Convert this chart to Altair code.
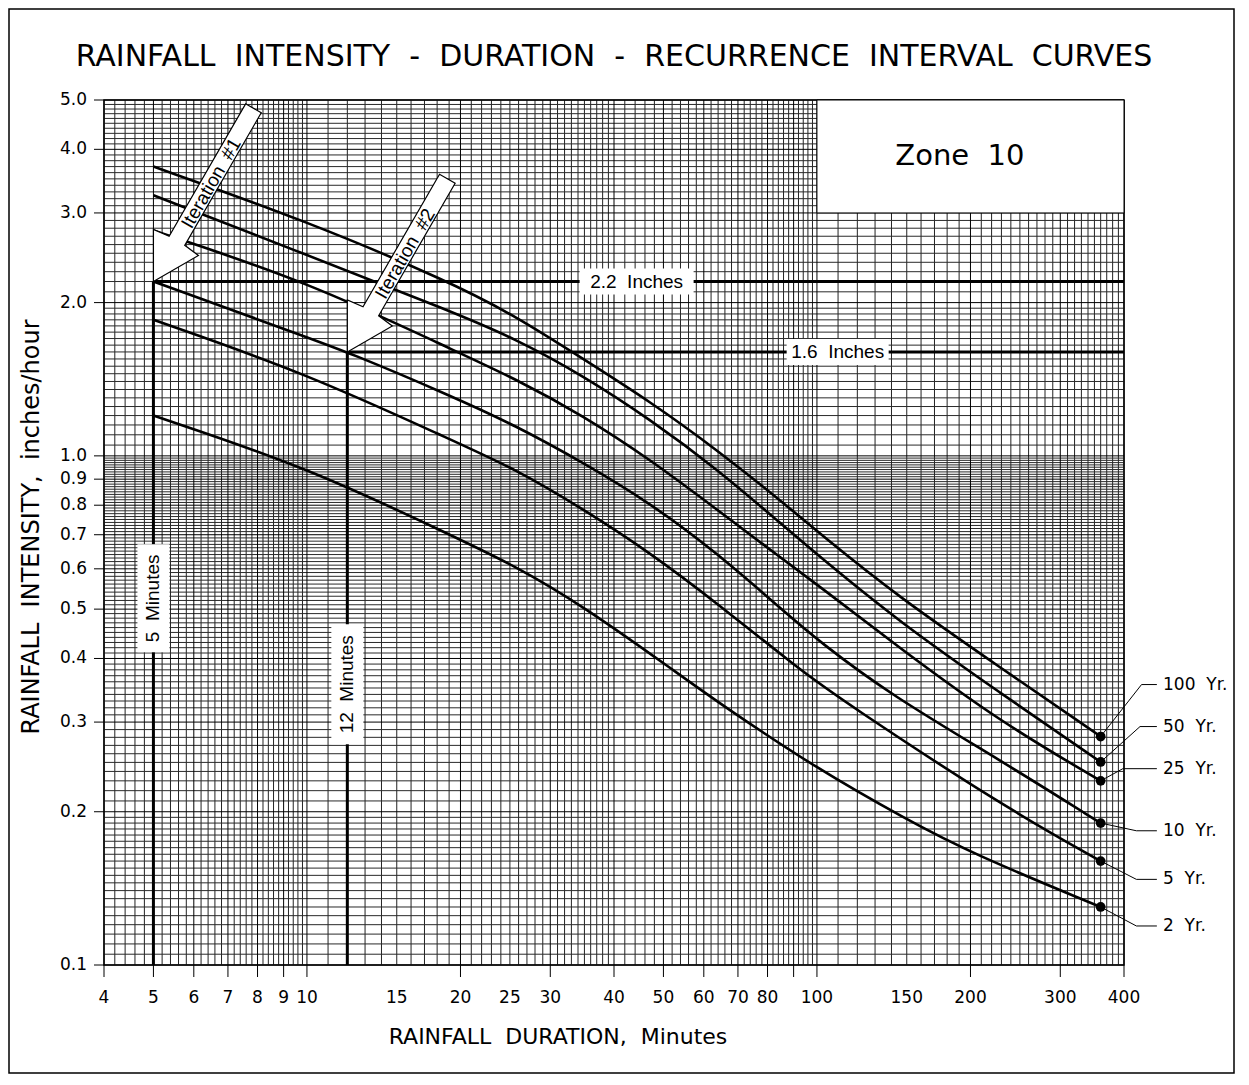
import altair as alt
import pandas as pd

W, H = 1020, 865
XDOM = [4, 400]
YDOM = [0.1, 5.0]
SP = " \u00a0"  # a visible double space (SVG collapses plain double spaces)

# ---------------- curve readings (duration in minutes, intensity in in/hr) ----------------
dur_100 = [5, 10, 19, 25.7, 34.8, 47, 63.5, 85.8, 101, 145, 228, 360]
int_100 = [3.70, 2.89, 2.20, 1.88, 1.55, 1.28, 1.03, 0.81, 0.705, 0.527, 0.385, 0.281]
dur_50 = [5, 10, 19, 25.7, 34.8, 47, 63.5, 85.8, 101, 145, 228, 360]
int_50 = [3.25, 2.48, 1.929, 1.697, 1.437, 1.181, 0.945, 0.73, 0.635, 0.472, 0.343, 0.2505]
dur_25 = [5, 10, 19, 25.7, 34.8, 47, 63.5, 85.8, 101, 145, 228, 360]
int_25 = [2.77, 2.20, 1.627, 1.416, 1.199, 0.985, 0.786, 0.626, 0.555, 0.42, 0.301, 0.230]
dur_10 = [5, 10, 12, 19, 25.7, 34.8, 47, 63.5, 85.8, 101, 139, 228, 360]
int_10 = [2.20, 1.71, 1.60, 1.317, 1.146, 0.970, 0.809, 0.646, 0.497, 0.432, 0.34, 0.253, 0.190]
dur_5 = [5, 10, 19, 25.7, 34.8, 47, 63.5, 92.5, 112.6, 228, 360]
int_5 = [1.85, 1.45, 1.079, 0.941, 0.786, 0.646, 0.515, 0.380, 0.33, 0.207, 0.160]
dur_2 = [5, 10, 19, 25.7, 34.8, 52.2, 64.8, 100, 150, 200, 360]
int_2 = [1.20, 0.95, 0.701, 0.607, 0.507, 0.380, 0.325, 0.243, 0.193, 0.166, 0.130]

series_names = ["100 Yr.", "50 Yr.", "25 Yr.", "10 Yr.", "5 Yr.", "2 Yr."]
series_dur = [dur_100, dur_50, dur_25, dur_10, dur_5, dur_2]
series_int = [int_100, int_50, int_25, int_10, int_5, int_2]

# series labels on the right
label_text = ["100" + SP + "Yr.", "50" + SP + "Yr.", "25" + SP + "Yr.",
              "10" + SP + "Yr.", "5" + SP + "Yr.", "2" + SP + "Yr."]
label_int = [0.3555, 0.294, 0.243, 0.1835, 0.1473, 0.1193]
elbow_dur = [433, 430, 398, 423, 423, 423]
end_dur = 360
leader_end_dur = 464
label_dur = 477

# iteration reference lines
iter_dur = [5, 12]
iter_int = [2.2, 1.6]
iter_text = ["Iteration" + SP + "#1", "Iteration" + SP + "#2"]

ref_v_text = ["5" + SP + "Minutes", "12" + SP + "Minutes"]
ref_v_dur = [5, 12]
ref_v_int = [0.525, 0.356]
ref_v_box = ["M-16,-54H16V54H-16Z", "M-16,-60H16V60H-16Z"]
ref_h_text = ["2.2" + SP + "Inches", "1.6" + SP + "Inches"]
ref_h_dur = [44.3, 109.8]
ref_h_int = [2.2, 1.6]
ref_h_box = ["M-57,-13H57V13H-57Z", "M-51,-13H51V13H-51Z"]

zone_x = [100, 400]
zone_y = [3.0, 5.0]
zone_text = "Zone" + SP + "10"
zone_text_pos = [190.7, 3.886]

chart_title = SP.join(["RAINFALL", "INTENSITY", "-", "DURATION", "-", "RECURRENCE", "INTERVAL", "CURVES"])
x_title = SP.join(["RAINFALL", "DURATION,", "Minutes"])
y_title = SP.join(["RAINFALL", "INTENSITY,", "inches/hour"])

x_tick_vals = [4, 5, 6, 7, 8, 9, 10, 20, 30, 40, 50, 60, 70, 80, 90, 100, 200, 300, 400]
x_label_vals = [4, 5, 6, 7, 8, 9, 10, 15, 20, 25, 30, 40, 50, 60, 70, 80, 100, 150, 200, 300, 400]
y_label_vals = [0.1, 0.2, 0.3, 0.4, 0.5, 0.6, 0.7, 0.8, 0.9, 1.0, 2.0, 3.0, 4.0, 5.0]

x_grid_segments = [(4, 10, 0.2), (10, 40, 1), (40, 100, 2), (100, 400, 10)]
y_grid_segments = [(0.1, 0.2, 0.005), (0.2, 1.0, 0.01), (1.0, 2.0, 0.05), (2.0, 5.0, 0.1)]

ARROW = "M0,0L0,-52L15.7,-45.2L92.2,-177.7L107.8,-168.7L31.3,-36.2L45,-26Z"


def expand(segs):
    vals = []
    for a, b, s in segs:
        n = int(round((b - a) / s))
        vals += [round(a + k * s, 4) for k in range(n + 1)]
    return sorted(set(vals))


x_grid_all = expand(x_grid_segments)
y_grid_all = expand(y_grid_segments)
x_minor = [v for v in x_grid_all if all(abs(v - m) > 1e-6 for m in x_tick_vals)]
y_minor = [v for v in y_grid_all if all(abs(v - m) > 1e-6 for m in y_label_vals)]

xs = alt.Scale(type="log", domain=XDOM, nice=False)
ys = alt.Scale(type="log", domain=YDOM, nice=False)

FONT = "DejaVu Sans"
BOXFONT = "Liberation Sans"


def X(f):
    return alt.X(f, scale=xs, axis=None)


def Y(f):
    return alt.Y(f, scale=ys, axis=None)


# ---------------- grid ----------------
gx_minor = alt.Chart(pd.DataFrame({"v": x_minor})).mark_rule(color="#222222", strokeWidth=1).encode(x=X("v:Q"))
gx_major = alt.Chart(pd.DataFrame({"v": x_tick_vals})).mark_rule(color="#000000", strokeWidth=1).encode(x=X("v:Q"))
gy_minor = alt.Chart(pd.DataFrame({"v": y_minor})).mark_rule(color="#2a2a2a", strokeWidth=1).encode(y=Y("v:Q"))
gy_major = alt.Chart(pd.DataFrame({"v": y_label_vals})).mark_rule(color="#000000", strokeWidth=1).encode(y=Y("v:Q"))

# ---------------- axes drawn as marks ----------------
xt_df = pd.DataFrame({"v": x_tick_vals})
x_ticks = alt.Chart(xt_df).mark_rule(color="black", strokeWidth=1).encode(
    x=X("v:Q"), y=alt.value(H), y2=alt.value(H + 12))
xl_df = pd.DataFrame({"v": x_label_vals, "t": [str(v) for v in x_label_vals]})
x_labels = alt.Chart(xl_df).mark_text(font=FONT, fontSize=17, color="black", align="center", baseline="middle").encode(
    x=X("v:Q"), y=alt.value(H + 32.5), text="t:N")
yt_df = pd.DataFrame({"v": y_label_vals, "t": ["%.1f" % v for v in y_label_vals]})
y_ticks = alt.Chart(yt_df).mark_rule(color="black", strokeWidth=1).encode(
    y=Y("v:Q"), x=alt.value(-10), x2=alt.value(0))
y_labels = alt.Chart(yt_df).mark_text(font=FONT, fontSize=17, color="black", align="right", baseline="middle").encode(
    y=Y("v:Q"), x=alt.value(-17), text="t:N")

txt_df = pd.DataFrame({"t": [chart_title], "xt": [x_title], "yt": [y_title]})
x_ttl = alt.Chart(txt_df).mark_text(font=FONT, fontSize=22, color="black", align="center", baseline="middle").encode(
    x=alt.value(454), y=alt.value(H + 72), text="xt:N")
y_ttl = alt.Chart(txt_df).mark_text(font=FONT, fontSize=24, color="black", align="center", baseline="middle",
                                    angle=270).encode(x=alt.value(-72), y=alt.value(427), text="yt:N")
title = alt.Chart(txt_df).mark_text(font=FONT, fontSize=30, color="black", align="center", baseline="middle").encode(
    x=alt.value(W / 2), y=alt.value(-43), text="t:N")
frame = alt.Chart(txt_df).mark_rect(fillOpacity=0, stroke="black", strokeWidth=1.5).encode(
    x=alt.value(-95), x2=alt.value(W + 110), y=alt.value(-91), y2=alt.value(H + 108))

# ---------------- annotations ----------------
zone_df = pd.DataFrame({"x0": [zone_x[0]], "x1": [zone_x[1]], "y0": [zone_y[0]], "y1": [zone_y[1]]})
zone_rect = alt.Chart(zone_df).mark_rect(fill="white", stroke="black", strokeWidth=1).encode(
    x=X("x0:Q"), x2="x1:Q", y=Y("y0:Q"), y2="y1:Q")

vline_df = pd.DataFrame({"d": iter_dur, "i0": [YDOM[0]] * 2, "i1": iter_int})
vlines = alt.Chart(vline_df).mark_rule(color="black", strokeWidth=3).encode(
    x=X("d:Q"), y=Y("i0:Q"), y2="i1:Q")
hline_df = pd.DataFrame({"d0": iter_dur, "d1": [XDOM[1]] * 2, "i": iter_int})
hlines = alt.Chart(hline_df).mark_rule(color="black", strokeWidth=3).encode(
    x=X("d0:Q"), x2="d1:Q", y=Y("i:Q"))

box_df = pd.DataFrame({"d": ref_v_dur + ref_h_dur, "i": ref_v_int + ref_h_int, "shape": ref_v_box + ref_h_box})
boxes = alt.Chart(box_df).mark_point(filled=True, fill="white", size=4, opacity=1, strokeWidth=0).encode(
    x=X("d:Q"), y=Y("i:Q"), shape=alt.Shape("shape:N", scale=None))

vtext = alt.Chart(pd.DataFrame({"d": ref_v_dur, "i": ref_v_int, "t": ref_v_text})).mark_text(
    font=BOXFONT, fontSize=19, color="black", angle=270, align="center", baseline="middle").encode(
    x=X("d:Q"), y=Y("i:Q"), text="t:N")
htext = alt.Chart(pd.DataFrame({"d": ref_h_dur, "i": ref_h_int, "t": ref_h_text})).mark_text(
    font=BOXFONT, fontSize=19, color="black", align="center", baseline="middle").encode(
    x=X("d:Q"), y=Y("i:Q"), text="t:N")

rows = []
for name, ds, vs in zip(series_names, series_dur, series_int):
    for d, v in zip(ds, vs):
        rows.append({"series": name, "d": d, "i": v})
curves = alt.Chart(pd.DataFrame(rows)).mark_line(color="black", strokeWidth=2.6, interpolate="basis").encode(
    x=X("d:Q"), y=Y("i:Q"), detail="series:N", order="d:Q")

end_int = [vs[-1] for vs in series_int]
dots = alt.Chart(pd.DataFrame({"d": [end_dur] * 6, "i": end_int})).mark_circle(
    color="black", size=95, opacity=1).encode(x=X("d:Q"), y=Y("i:Q"))

lrows = []
for k, name in enumerate(series_names):
    lrows.append({"series": name, "o": 0, "d": end_dur, "i": end_int[k]})
    lrows.append({"series": name, "o": 1, "d": elbow_dur[k], "i": label_int[k]})
    lrows.append({"series": name, "o": 2, "d": leader_end_dur, "i": label_int[k]})
leaders = alt.Chart(pd.DataFrame(lrows)).mark_line(color="black", strokeWidth=1).encode(
    x=X("d:Q"), y=Y("i:Q"), detail="series:N", order="o:Q")

slabels = alt.Chart(pd.DataFrame({"d": [label_dur] * 6, "i": label_int, "t": label_text})).mark_text(
    font=FONT, fontSize=17, color="black", align="left", baseline="middle").encode(
    x=X("d:Q"), y=Y("i:Q"), text="t:N")

arrow_df = pd.DataFrame({"d": iter_dur, "i": iter_int, "t": iter_text})
arrows = alt.Chart(arrow_df).mark_point(
    shape=ARROW, size=4, filled=True, fill="white", stroke="black", strokeWidth=1.2, opacity=1).encode(
    x=X("d:Q"), y=Y("i:Q"))
arrow_text = alt.Chart(arrow_df).mark_text(
    font=BOXFONT, fontSize=19, color="black", angle=300, align="center", baseline="middle", dx=114, dy=1).encode(
    x=X("d:Q"), y=Y("i:Q"), text="t:N")

zone_lbl = alt.Chart(pd.DataFrame({"d": [zone_text_pos[0]], "i": [zone_text_pos[1]], "t": [zone_text]})).mark_text(
    font=FONT, fontSize=29, color="black", align="center", baseline="middle").encode(
    x=X("d:Q"), y=Y("i:Q"), text="t:N")

chart = alt.layer(
    gx_minor, gy_minor, gx_major, gy_major, zone_rect, vlines, hlines, boxes, vtext, htext,
    curves, leaders, dots, slabels, arrows, arrow_text, zone_lbl,
    x_ticks, x_labels, y_ticks, y_labels, x_ttl, y_ttl, title, frame,
).properties(
    width=W, height=H,
    padding={"left": 96, "top": 92, "right": 112, "bottom": 112},
    autosize=alt.AutoSizeParams(type="none"),
    background="white",
).configure_view(stroke="black", strokeWidth=1.5)

chart.save("out.html", embed_options={"renderer": "svg", "actions": False})
